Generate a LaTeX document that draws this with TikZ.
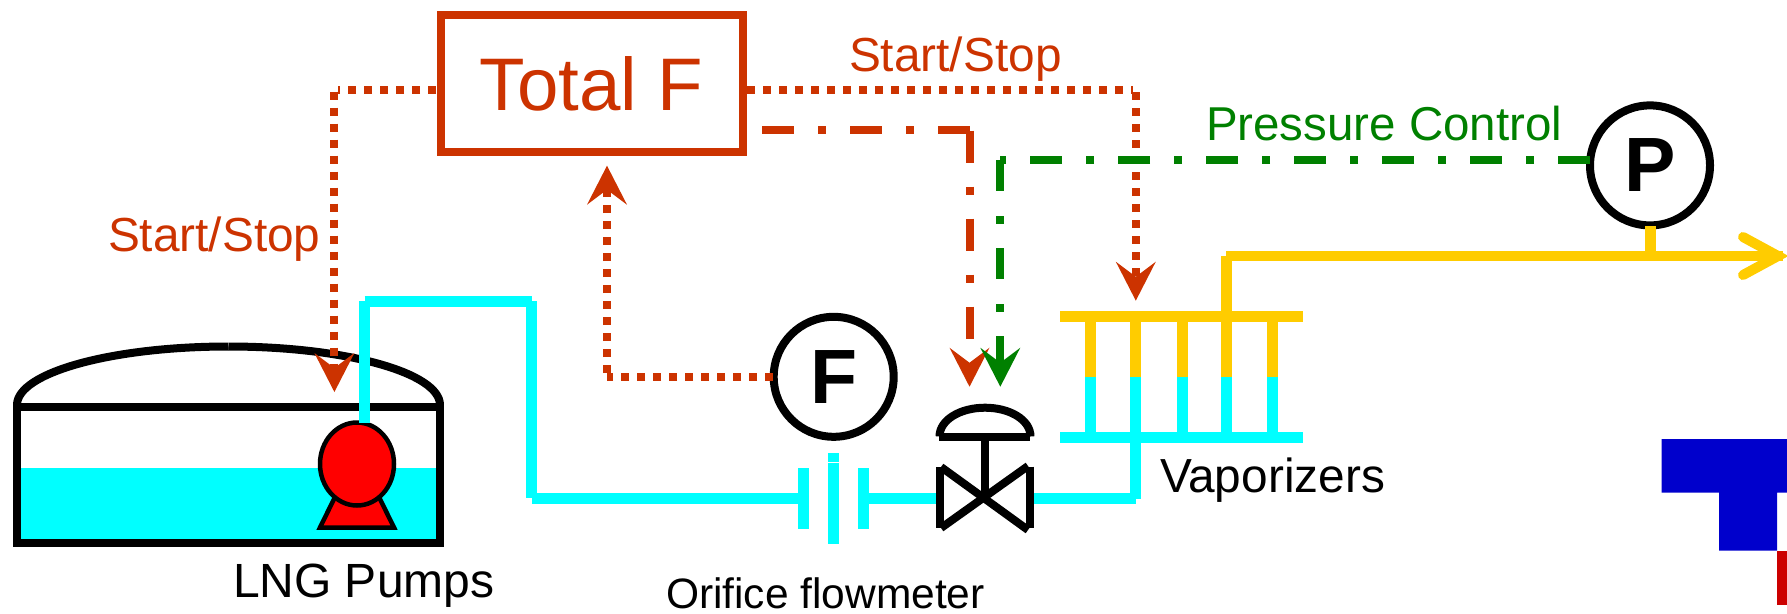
\documentclass[tikz,border=0pt]{standalone}
\usepackage{fontspec}
\setmainfont{Liberation Sans}
\usetikzlibrary{arrows.meta,shapes.geometric}
\definecolor{ctl}{RGB}{204,51,0}
\definecolor{lng}{RGB}{0,255,255}
\definecolor{gas}{RGB}{255,204,0}
\definecolor{pres}{RGB}{0,128,0}
\definecolor{logoblue}{RGB}{0,0,204}
\definecolor{logored}{RGB}{204,0,0}
\newcommand{\fs}[1]{\fontsize{#1}{#1}\selectfont}
\tikzset{
  x=1pt,y=-1pt,
  cyanpipe/.style={draw=lng,line width=11pt},
  gaspipe/.style={draw=gas,line width=11pt},
  blackline/.style={draw=black,line width=8pt},
  dotline/.style={draw=ctl,line width=8pt,dash pattern=on 8pt off 8pt},
  dashdot/.style={line width=8pt,dash pattern=on 32pt off 24pt on 8pt off 24pt},
  kite/.style={-{Stealth[length=39pt,width=40pt,inset=15pt,line width=0pt]}},
  instr/.style={circle,draw=black,fill=white,line width=8pt,minimum size=120pt,inner sep=0pt,font=\fs{77}\bfseries},
  lbl/.style={anchor=base west,inner sep=0pt,outer sep=0pt},
}
\begin{document}
\begin{tikzpicture}
\useasboundingbox (0,0) rectangle (1787,613);
% logo fragment
\fill[logoblue] (1661.7,439) -- (1787,439) -- (1787,492.7) -- (1777,492.7) -- (1777,550.7) -- (1719,550.7) -- (1719,492.7) -- (1661.7,492.7) -- cycle;
\fill[logored] (1777,550.7) rectangle (1787,605);
% tank
\fill[lng] (21,468) rectangle (436,539);
\draw[blackline] (17,407) rectangle (440,543);
\draw[blackline] (17,405) .. controls (17,372.7) and (111.7,346.5) .. (228.5,346.5);
\draw[blackline] (228.5,346.5) .. controls (345.3,346.5) and (440,372.7) .. (440,405);
% pump
\draw[fill=red,draw=black,line width=4.5pt,line join=miter] (335,497) -- (320,527.5) -- (394,527.5) -- (379,497) -- cycle;
\node[ellipse,draw=black,fill=red,line width=4.5pt,minimum width=74pt,minimum height=83pt,inner sep=0pt] (pump) at (357,464) {};
% named points
\coordinate (pumpout) at (364.5,423);
\coordinate (c1) at (364.5,301.3);
\coordinate (c2) at (531.5,301.3);
\coordinate (c3) at (531.5,498.3);
\coordinate (orl) at (803.7,498.3);
\coordinate (orr) at (863.5,498.3);
\coordinate (vl) at (939,498.3);
\coordinate (vr) at (1030,498.3);
\coordinate (c4) at (1135.5,498.3);
\coordinate (busin) at (1135.5,437.5);
\coordinate (c5) at (1226.6,316.5);
\coordinate (c6) at (1226.6,256);
\coordinate (tapp) at (1650.5,256);
\coordinate (outend) at (1783,256);
% cryogenic line
\draw[cyanpipe] (pumpout) -- (c1);
\draw[cyanpipe] (c1) -- (c2);
\draw[cyanpipe] (c2) -- (c3);
\draw[cyanpipe] (c3) -- (orl);
\draw[cyanpipe] (orr) -- (vl);
\draw[cyanpipe] (vr) -- (1136,498.3);
\draw[cyanpipe] (1135.5,499) -- (busin);
% orifice
\draw[cyanpipe] (803.7,468) -- (803.7,529);
\draw[cyanpipe] (863.5,468) -- (863.5,529);
\draw[cyanpipe] (833.8,453.3) -- (833.8,462);
\draw[cyanpipe] (833.8,463) -- (833.8,544);
% vaporizers
\draw[cyanpipe] (1060,437.5) -- (1303,437.5);
\draw[gaspipe] (1060,316.5) -- (1303,316.5);
\foreach \tx in {1090.5,1135.5,1182,1226.6,1272.5}{
  \draw[gaspipe] (\tx,322) -- (\tx,377);
  \draw[cyanpipe] (\tx,377) -- (\tx,432);
}
% gas outlet
\draw[gaspipe] (c5) -- (c6);
\draw[gaspipe,line width=10.5pt] (1226,256) -- (outend);
\draw[gaspipe,line width=10pt,line cap=round,line join=miter] (1743,237) -- (1778,256) -- (1743,275);
% valve
\draw[blackline] (939.5,466.7) -- (939.5,527.7);
\draw[blackline] (1030,466.7) -- (1030,527.7);
\draw[blackline] (941,467) -- (1028,530);
\draw[blackline] (941,528) -- (1028,466);
\draw[blackline] (985,440) -- (985,498);
\draw[blackline] (939,437) -- (1030,437);
\draw[blackline] (939.5,436.5) .. controls (939.5,420) and (960,407.7) .. (985,407.7);
\draw[blackline] (985,407.7) .. controls (1010,407.7) and (1030.5,420) .. (1030.5,436.5);
% instruments
\node[instr] (F) at (833.7,376.8) {F};
\node[instr] (P) at (1650,165.4) {P};
\draw[gaspipe] (1650.5,226) -- (tapp);
% totaliser
\node[draw=ctl,line width=8pt,fill=white,minimum width=302.2pt,minimum height=136.4pt,inner sep=0pt,text=ctl,font=\fs{74.5}] (total) at (591.7,83.5) {Total F};
% control lines
\coordinate (sl0) at (436,89.7);
\coordinate (sl1) at (337.5,89.7);
\coordinate (sl2) at (334.4,91.7);
\coordinate (slt) at (334.4,392);
\draw[dotline] (sl0) -- (sl1);
\draw[dotline,kite] (sl2) -- (slt);
\coordinate (sr0) at (747,89.7);
\coordinate (sr1) at (1133,89.7);
\coordinate (sr2) at (1135.8,92);
\coordinate (srt) at (1135.8,300.7);
\draw[dotline] (sr0) -- (sr1);
\draw[dotline,kite] (sr2) -- (srt);
\coordinate (f0) at (773,377);
\coordinate (f1) at (607,377);
\coordinate (f2) at (607,373);
\coordinate (ft) at (607,165.7);
\draw[dotline] (f0) -- (f1);
\draw[dotline,kite] (f2) -- (ft);
\coordinate (d0) at (762,130);
\coordinate (d1) at (970,130);
\coordinate (d2) at (969.5,130.7);
\coordinate (dt) at (969.5,386.7);
\draw[dashdot,draw=ctl] (d0) -- (d1);
\draw[dashdot,draw=ctl,kite] (d2) -- (dt);
\coordinate (g0) at (1590,160);
\coordinate (g1) at (1000.3,160);
\coordinate (gt) at (1000.3,386.7);
\draw[dashdot,draw=pres] (g0) -- (g1);
\draw[draw=pres,line width=8pt,dash pattern=on 31pt off 25pt on 8pt off 24pt,kite] (g1) -- (gt);
% labels
\node[lbl,text=ctl,font=\fs{47.8}] (t1) at (849,71) {Start/Stop};
\node[lbl,text=ctl,font=\fs{47.8}] (t2) at (108,251) {Start/Stop};
\node[lbl,text=pres,font=\fs{47.5}] (t3) at (1206,140.5) {Pressure Control};
\node[lbl,font=\fs{48}] (t4) at (233,597) {LNG Pumps};
\node[lbl,font=\fs{47.8}] (t5) at (1160,492.6) {Vaporizers};
\node[lbl,font=\fs{42.5}] (t6) at (666,608) {Orifice flowmeter};
\end{tikzpicture}
\end{document}
